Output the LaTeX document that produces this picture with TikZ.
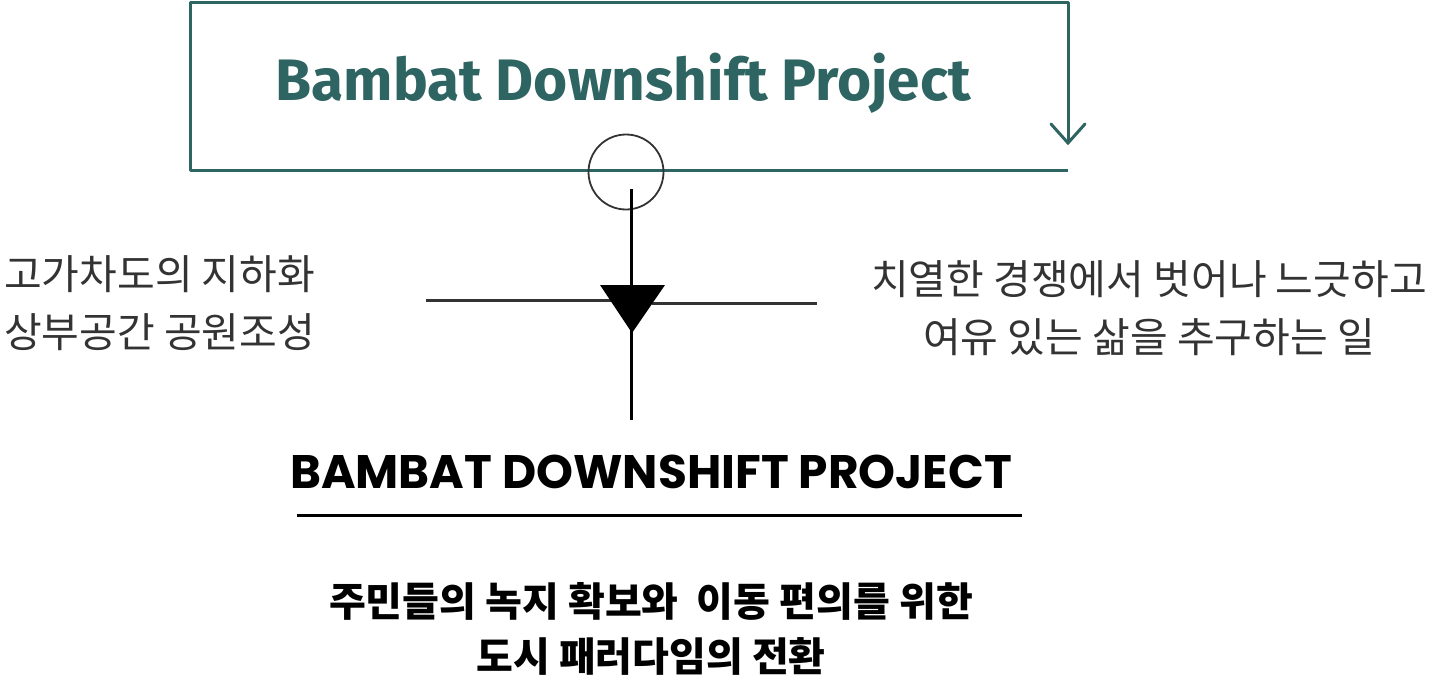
\documentclass[tikz,border=0pt]{standalone}
\usepackage{fontspec}
\usetikzlibrary{arrows.meta}
\newfontfamily\kr{Noto Sans CJK KR}
\newfontfamily\titlefont{Fira Sans}
\newfontfamily\capfont{Poppins}
\definecolor{teal1}{HTML}{2E6461}
\definecolor{txtgray}{HTML}{333333}
\tikzset{
  boxline/.style={draw=teal1, line width=3pt},
  blackline/.style={draw=black, line width=3pt},
  grayline/.style={draw=txtgray, line width=3pt},
  sidetext/.style={font=\kr\fontsize{41}{58}\selectfont, text=txtgray, inner sep=0pt},
}
\begin{document}
\begin{tikzpicture}[x=1pt,y=-1pt]
\useasboundingbox (0,0) rectangle (1433,680);
% teal box
\coordinate (bl) at (190,170);
\coordinate (br) at (1068,170);
\coordinate (tl) at (190,2);
\coordinate (tr) at (1068,2);
\coordinate (tip) at (1068,143);
\draw[boxline, line join=round] (br) -- (bl) -- (tl) -- (tr) -- (tip);
\draw[boxline, line cap=round, line join=miter] (1051,124) -- (tip) -- (1085,124);
\node[font=\titlefont\bfseries\fontsize{58.5}{62}\selectfont, text=teal1, inner sep=0pt] (title) at (623,83) {Bambat Downshift Project};
% circle
\node[draw=black!80, line width=1.8pt, circle, minimum size=75pt, inner sep=0pt] (circ) at (626,172) {};
% horizontal lines
\coordinate (hl1) at (426,300);
\coordinate (hl2) at (612,300);
\coordinate (hr1) at (652,303);
\coordinate (hr2) at (817,303);
\draw[grayline] (hl1) -- (hl2);
\draw[grayline] (hr1) -- (hr2);
% vertical line
\coordinate (vtop) at (631,189);
\coordinate (vbot) at (631,420);
\draw[blackline] (vtop) -- (vbot);
% triangle
\fill[black] (600,285) -- (665,285) -- (632,333) -- cycle;
% side texts
\node[sidetext, anchor=west, align=left] (left) at (4,303) {고가차도의 지하화\\상부공간 공원조성};
\node[sidetext, anchor=center, align=center] (right) at (1149,308) {치열한 경쟁에서 벗어나 느긋하고\\여유 있는 삶을 추구하는 일};
% caps title
\node[font=\capfont\bfseries\fontsize{47}{50}\selectfont, inner sep=0pt] (caps) at (651,472) {BAMBAT DOWNSHIFT PROJECT};
\coordinate (ul1) at (297,515);
\coordinate (ul2) at (1022,515);
\draw[blackline] (ul1) -- (ul2);
% bottom text
\node[font=\kr\bfseries\fontsize{40}{55}\selectfont, align=center, inner sep=0pt, anchor=center] (bottom) at (651,629) {주민들의 녹지 확보와 \ 이동 편의를 위한\\도시 패러다임의 전환};
\end{tikzpicture}
\end{document}
